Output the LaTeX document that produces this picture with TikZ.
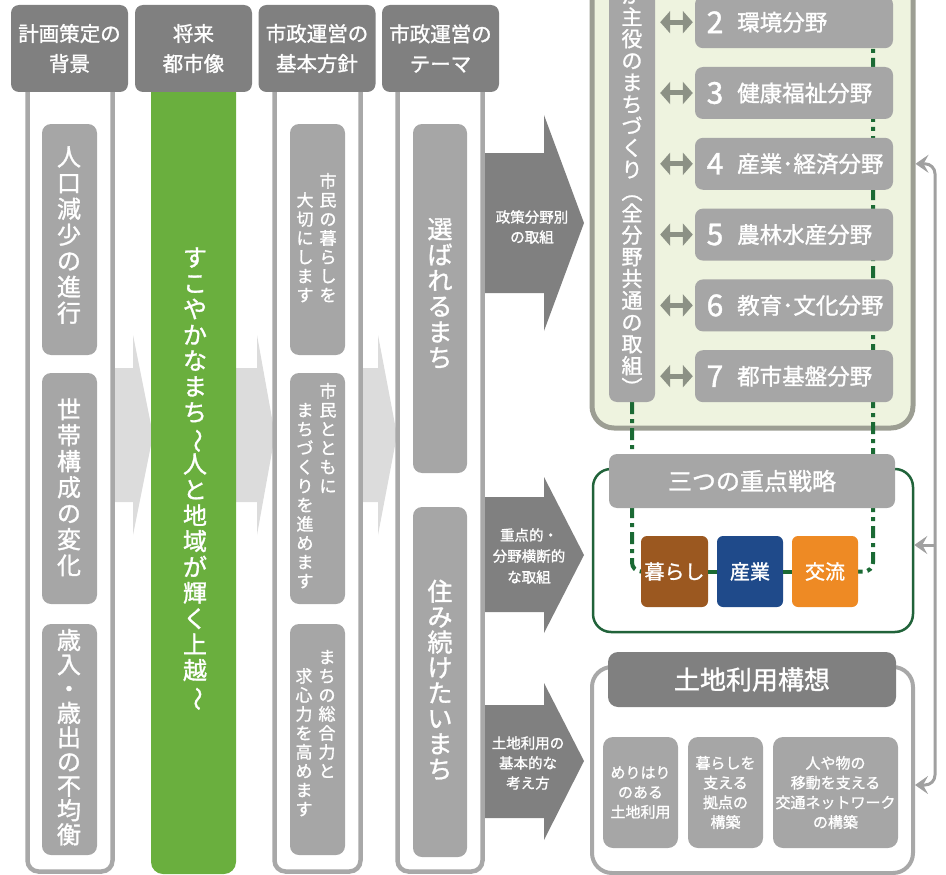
\documentclass[tikz,border=0pt]{standalone}
\usepackage{fontspec}
\setmainfont{Noto Sans CJK JP}[FakeBold=1.3]
\usepackage{graphicx}
\usetikzlibrary{arrows.meta}
\pgfdeclarelayer{back}
\pgfdeclarelayer{mid}
\pgfsetlayers{back,mid,main}
\definecolor{hdr}{HTML}{808080}
\definecolor{boxg}{HTML}{A6A6A6}
\definecolor{frm}{HTML}{A8A8A8}
\definecolor{grn}{HTML}{6AAF3E}
\definecolor{lgrey}{HTML}{DCDCDC}
\definecolor{darr}{HTML}{808080}
\definecolor{panelf}{HTML}{EEF3DF}
\definecolor{panelb}{HTML}{9C9E93}
\definecolor{dbl}{HTML}{8C9185}
\definecolor{dgreen}{HTML}{1B6A34}
\definecolor{ogreen}{HTML}{21633A}
\definecolor{brownc}{HTML}{9B5820}
\definecolor{navyc}{HTML}{1F4A8A}
\definecolor{orngc}{HTML}{EE8A24}
\definecolor{fbc}{HTML}{A0A0A0}
\makeatletter
\newlength\vtp
\newcommand\vtext[2]{%
  \setlength\vtp{#1}%
  \vbox{\offinterlineskip\@tfor\vt@c:=#2\do{\hbox to 1.2\vtp{\hss\raisebox{0pt}[0.8\vtp][0.2\vtp]{\vt@c}\hss}}}}
\makeatother
\newcommand\vtilde{\rotatebox[origin=c]{-90}{～}}
\newcommand\vlp{\rotatebox[origin=c]{-90}{（}}
\newcommand\vrp{\rotatebox[origin=c]{-90}{）}}
\newcommand\fs[1]{\fontsize{#1}{#1}\selectfont}
\tikzset{fbtip/.tip={Stealth[length=13pt,width=18pt,inset=5pt]}}
\begin{document}
\begin{tikzpicture}[x=1pt,y=-1pt,
  hdrbox/.style={fill=hdr, rounded corners=8pt, text=white, align=center, inner sep=0pt,
    font=\fontsize{20.5}{30}\selectfont, minimum width=117pt, minimum height=87pt},
  ibox/.style={fill=boxg, rounded corners=9pt, inner sep=0pt},
  frame/.style={draw=frm, line width=4.5pt, rounded corners=11pt},
  wt/.style={text=white, inner sep=0pt, align=center},
  chev/.style={fill=lgrey},
  darrow/.style={fill=darr},
  dblarr/.style={draw=dbl, line width=5pt, shorten <=5pt, shorten >=2pt,
    {Triangle[length=10pt,width=22pt]}-{Triangle[length=10pt,width=22pt]}},
  dgline/.style={draw=dgreen, line width=4pt, rounded corners=9pt,
    dash pattern=on 12pt off 5pt on 4pt off 5pt},
  dgsolid/.style={draw=dgreen, line width=4pt},
  cbox/.style={rounded corners=6pt, minimum height=71pt, text=white, inner sep=0pt, font=\fs{20}},
  subbox/.style={fill=boxg, rounded corners=10pt, minimum height=111pt, text=white, inner sep=0pt,
    align=center, font=\fontsize{15}{19.7}\selectfont},
  fbline/.style={draw=fbc, line width=3pt}
]
\useasboundingbox (0,0) rectangle (946,875);
\clip (0,0) rectangle (946,875);

% light grey chevrons between columns
\fill[chev] (113,368) -- (133,368) -- (133,335) -- (153,435) -- (133,535) -- (133,502) -- (113,502) -- cycle;
\fill[chev] (236,368) -- (257,368) -- (257,335) -- (275,435) -- (257,535) -- (257,502) -- (236,502) -- cycle;
\fill[chev] (360,368) -- (378,368) -- (378,335) -- (397,435) -- (378,535) -- (378,502) -- (360,502) -- cycle;

% column frames
\draw[frame] (27.5,80) -- (27.5,871.5) -- (112.5,871.5) -- (112.5,80);
\draw[frame] (274.5,80) -- (274.5,871.5) -- (360.5,871.5) -- (360.5,80);
\draw[frame] (397.5,80) -- (397.5,871.5) -- (482.5,871.5) -- (482.5,80);
\fill[grn, rounded corners=12pt] (151,80) rectangle (236,874);

% headers
\node[hdrbox] (h1) at (69.5,48.5) {計画策定の\\背景};
\node[hdrbox] (h2) at (193.5,48.5) {将来\\都市像};
\node[hdrbox] (h3) at (317,48.5) {市政運営の\\基本方針};
\node[hdrbox] (h4) at (440.5,48.5) {市政運営の\\テーマ};

% column 1
\node[ibox, minimum width=55pt, minimum height=231pt] (b11) at (69.5,239.5) {};
\node[ibox, minimum width=55pt, minimum height=231pt] (b12) at (69.5,488.5) {};
\node[ibox, minimum width=55pt, minimum height=231pt] (b13) at (69.5,739.5) {};
\node[wt, font=\fs{24}] (t11) at (69,236) {\vtext{26pt}{人口減少の進行}};
\node[wt, font=\fs{24}] (t12) at (69,488.5) {\vtext{26pt}{世帯構成の変化}};
\node[wt, font=\fs{24}] (t13) at (69,739) {\vtext{24.3pt}{歳入・歳出の不均衡}};

% column 2 (green)
\node[wt, font=\fs{24}] (gt) at (195,478) {\vtext{25.8pt}{すこやかなまち\vtilde 人と地域が輝く上越\vtilde}};

% column 3
\node[ibox, minimum width=55pt, minimum height=231pt] (b31) at (317.5,239.5) {};
\node[ibox, minimum width=55pt, minimum height=231pt] (b32) at (317.5,488.5) {};
\node[ibox, minimum width=55pt, minimum height=231pt] (b33) at (317.5,739.5) {};
\node[wt, anchor=north, font=\fs{17}] (t31a) at (328,172) {\vtext{19pt}{市民の暮らしを}};
\node[wt, anchor=north, font=\fs{17}] (t31b) at (305,191) {\vtext{19pt}{大切にします}};
\node[wt, anchor=north, font=\fs{17}] (t32a) at (328,382) {\vtext{19pt}{市民とともに}};
\node[wt, anchor=north, font=\fs{17}] (t32b) at (305,401) {\vtext{19pt}{まちづくりを進めます}};
\node[wt, anchor=north, font=\fs{17}] (t33a) at (327,648) {\vtext{19pt}{まちの総合力と}};
\node[wt, anchor=north, font=\fs{17}] (t33b) at (304,667) {\vtext{19pt}{求心力を高めます}};

% column 4
\node[ibox, minimum width=54pt, minimum height=349pt] (b41) at (440,298.5) {};
\node[ibox, minimum width=54pt, minimum height=350pt] (b42) at (440,682) {};
\node[wt, font=\fs{25}] (t41) at (440,295) {\vtext{25.7pt}{選ばれるまち}};
\node[wt, font=\fs{25}] (t42) at (440,682) {\vtext{25.4pt}{住み続けたいまち}};

% dark arrows
\fill[darrow] (485,153) -- (544,153) -- (544,115) -- (584,223) -- (544,331) -- (544,293) -- (485,293) -- cycle;
\fill[darrow] (485,497) -- (544,497) -- (544,477) -- (584,555) -- (544,633) -- (544,612) -- (485,612) -- cycle;
\fill[darrow] (485,705) -- (544,705) -- (544,683) -- (584,761) -- (544,840) -- (544,818) -- (485,818) -- cycle;
\node[wt, font=\fontsize{14.5}{20}\selectfont] (a1t) at (532,227) {政策分野別\\の取組};
\node[wt, font=\fontsize{14.5}{21}\selectfont] (a2t) at (529,556) {重点的・\\分野横断的\\な取組};
\node[wt, font=\fontsize{14.5}{20}\selectfont] (a3t) at (528,763) {土地利用の\\基本的な\\考え方};

% right panel
\begin{pgfonlayer}{back}
\node[draw=panelb, fill=panelf, line width=5pt, rounded corners=22pt, minimum width=321pt,
  minimum height=468pt, inner sep=0pt] (panel) at (752.5,194) {};
\end{pgfonlayer}
\node[draw=ogreen, line width=2.5pt, rounded corners=18pt, minimum width=320pt,
  minimum height=163pt, inner sep=0pt] (sframe) at (753,550.5) {};
\node[draw=frm, line width=4pt, rounded corners=20pt, minimum width=321pt,
  minimum height=206pt, inner sep=0pt] (land) at (752.5,770) {};

\node[ibox, rounded corners=8pt, minimum width=46pt, minimum height=462pt] (lbl) at (632,171) {};
\node[wt, anchor=south, font=\fs{21}] (lblt) at (632,400) {\vtext{21.8pt}{が主役のまちづくり\vlp 全分野共通の取組\vrp}};

\foreach \k/\t in {2/環境分野,3/健康福祉分野,4/産業･経済分野,5/農林水産分野,6/教育･文化分野,7/都市基盤分野}{
  \node[ibox, rounded corners=8pt, minimum width=198pt, minimum height=52pt] (f\k) at (794,{93+(\k-3)*70.8}) {};
  \node[wt, font=\fs{30}] (fn\k) at ([xshift=-79pt]f\k.center) {\k};
  \node[wt, anchor=west, font=\fs{22.5}] (ft\k) at ([xshift=-57pt]f\k.center) {\t};
  \draw[dblarr] (lbl.east |- f\k.west) -- (f\k.west);
}

% three strategies
\node[ibox, rounded corners=8pt, minimum width=286pt, minimum height=54pt, text=white, font=\fs{24}] (strat) at (752,481) {三つの重点戦略};
\node[cbox, fill=brownc, minimum width=67pt] (kur) at (674.5,571.5) {暮らし};
\node[cbox, fill=navyc, minimum width=66pt] (san) at (750,571.5) {産業};
\node[cbox, fill=orngc, minimum width=66pt] (kor) at (825,571.5) {交流};
\draw[dgsolid] (kur.east) -- (san.west);
\draw[dgsolid] (san.east) -- (kor.west);
\coordinate (dtop) at (873,-20);
\begin{pgfonlayer}{mid}
\draw[dgline] (lbl.south) |- (kur.west);
\draw[dgline] (dtop) |- (kor.east);
\end{pgfonlayer}

% land use
\node[fill=hdr, rounded corners=10pt, minimum width=288pt, minimum height=55pt, text=white,
  inner sep=0pt, font=\fs{26}] (lhdr) at (752,679.5) {土地利用構想};
\node[subbox, minimum width=75pt] (s1) at (640.5,792.5) {めりはり\\のある\\土地利用};
\node[subbox, minimum width=75pt] (s2) at (725.5,792.5) {暮らしを\\支える\\拠点の\\構築};
\node[subbox, minimum width=125pt] (s3) at (835.5,792.5) {人や物の\\移動を支える\\交通ネットワーク\\の構築};

% feedback arrows
\coordinate (fb1) at (935,163.8);
\coordinate (fb2) at (935,545);
\coordinate (fb3) at (935,785);
\draw[fbline, rounded corners=10pt, {fbtip}-{fbtip}] (panel.east |- fb1) -- (fb1) -- (fb3) -- (land.east |- fb3);
\draw[fbline, -{fbtip}] (fb2) -- (sframe.east |- fb2);
\end{tikzpicture}
\end{document}
